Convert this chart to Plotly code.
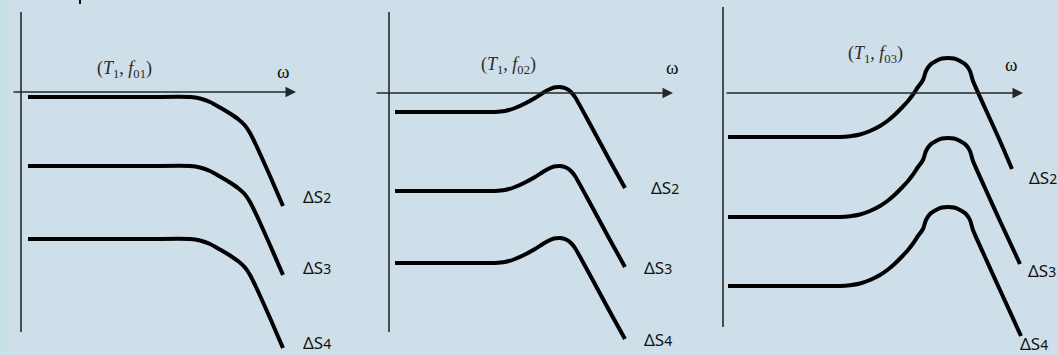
import plotly.graph_objects as go

# Frequency response sketches: three panels (T1, f01), (T1, f02), (T1, f03),
# each with three curves labelled ΔS2, ΔS3, ΔS4.
# Coordinates are relative to each panel's origin (ω axis crossing the level axis).

# Panel 1: pure roll-off
p1_omega = [7, 79, 129, 169, 179, 189, 199, 209, 217, 224, 229, 235, 249, 262]
p1_s2 = [-5, -5, -5, -5, -6.5, -10, -15.5, -21.5, -27, -33.5, -41, -53, -84, -114]
p1_s3 = [-74, -74, -74, -74, -75.5, -79, -84.5, -90.5, -96, -102.5, -110, -122, -153, -183]
p1_s4 = [-147, -147, -147, -147, -148.5, -152, -157.5, -163.5, -169, -175.5, -183, -195, -226, -256]

# Panel 2: small resonance bump before roll-off
p2_omega = [6, 71, 106, 116, 126, 136, 146, 153, 159, 165, 171, 177, 182, 186, 201, 221, 236]
p2_s2 = [-19, -19, -19, -18, -15, -10.5, -5, -0.5, 3, 5.5, 6, 4.5, 1, -4, -31, -68, -95]
p2_s3 = [-98, -98, -98, -97, -94, -89.5, -84, -79.5, -76, -73.5, -73, -74.5, -78, -83, -110, -147, -174]
p2_s4 = [-170, -170, -170, -169, -166, -161.5, -156, -151.5, -148, -145.5, -145, -146.5, -150, -155, -182, -219, -246]

# Panel 3: strong resonance peak before roll-off
p3_omega = [5, 67, 117, 127, 137, 147, 157, 165, 172, 179, 185, 190, 195, 200,
            203, 207, 213, 219, 225, 231, 237, 243, 247, 250, 262, 277]
p3_end_omega = [289, 297, 298]
p3_s2 = [-44, -44, -44, -43.2, -41.5, -38, -33, -27.5, -21.5, -14.5, -8, -1.5, 6, 13,
         22, 28, 32, 34.5, 35, 34.5, 32, 28, 22, 12, -15, -48, -76]
p3_s3 = [-124, -124, -124, -123.2, -121.5, -118, -113, -107.5, -101.5, -94.5, -88, -81.5, -74, -67,
         -58, -52, -48, -45.5, -45, -45.5, -48, -52, -58, -68, -95, -128, -171]
p3_s4 = [-193, -193, -193, -192.2, -190.5, -187, -182, -176.5, -170.5, -163.5, -157, -150.5, -143, -136,
         -127, -121, -117, -114.5, -114, -114.5, -117, -121, -127, -137, -164, -197, -243]

panel_titles = ["(<i>T</i><sub>1</sub>, <i>f</i><sub>01</sub>)",
                "(<i>T</i><sub>1</sub>, <i>f</i><sub>02</sub>)",
                "(<i>T</i><sub>1</sub>, <i>f</i><sub>03</sub>)"]
curve_labels = ["ΔS<span style='font-size:14px'>2</span>",
                "ΔS<span style='font-size:14px'>3</span>",
                "ΔS<span style='font-size:14px'>4</span>"]

W, H = 1058, 355
BG = "#cedfe9"
AXIS_COLOR = "#23282c"

fig = go.Figure()

panels = [
    dict(curves=[(p1_omega, p1_s2), (p1_omega, p1_s3), (p1_omega, p1_s4)],
         px=(0, 353), origin=(21, 92), vaxis=(80, -240), haxis=(-9, 275),
         title_pos=(103, 23), omega_pos=(262, 21),
         label_pos=[(296, -104), (296, -175), (296, -250)]),
    dict(curves=[(p2_omega, p2_s2), (p2_omega, p2_s3), (p2_omega, p2_s4)],
         px=(353, 700), origin=(389, 93), vaxis=(81, -239), haxis=(-14, 284),
         title_pos=(119, 28), omega_pos=(283, 26),
         label_pos=[(276, -94), (269, -174), (269, -246)]),
    dict(curves=[(p3_omega + [p3_end_omega[0]], p3_s2),
                 (p3_omega + [p3_end_omega[1]], p3_s3),
                 (p3_omega + [p3_end_omega[2]], p3_s4)],
         px=(700, 1058), origin=(723, 93), vaxis=(86, -234), haxis=(2, 300),
         title_pos=(152, 39), omega_pos=(288, 29),
         label_pos=[(320, -84), (319, -177), (311, -250)]),
]

layout_axes = {}
annotations = []
shapes = []

for i, p in enumerate(panels, start=1):
    xa = "x" if i == 1 else f"x{i}"
    ya = "y" if i == 1 else f"y{i}"
    x0px, x1px = p["px"]
    ox, oy = p["origin"]
    # one data unit per screen pixel, origin at the axis crossing
    layout_axes[f"xaxis{i}"] = dict(domain=[x0px / W, x1px / W],
                                    range=[x0px - ox, x1px - ox],
                                    visible=False, fixedrange=True, anchor=ya)
    layout_axes[f"yaxis{i}"] = dict(domain=[0, 1], range=[oy - H, oy],
                                    visible=False, fixedrange=True, anchor=xa)

    # level axis (vertical)
    fig.add_trace(go.Scatter(x=[0, 0], y=list(p["vaxis"]), mode="lines",
                             line=dict(color=AXIS_COLOR, width=1.6),
                             xaxis=xa, yaxis=ya, hoverinfo="skip",
                             showlegend=False))
    # ω axis with arrow
    annotations.append(dict(x=p["haxis"][1], y=0, ax=p["haxis"][0], ay=0,
                            xref=xa, yref=ya, axref=xa, ayref=ya,
                            showarrow=True, arrowhead=2, arrowsize=1.4,
                            arrowwidth=1.5, arrowcolor=AXIS_COLOR, text=""))

    for (om, s) in p["curves"]:
        fig.add_trace(go.Scatter(x=om, y=s, mode="lines",
                                 line=dict(color="#000000", width=4,
                                           shape="spline", smoothing=0.6),
                                 xaxis=xa, yaxis=ya, hoverinfo="skip",
                                 showlegend=False))

    annotations.append(dict(x=p["title_pos"][0], y=p["title_pos"][1],
                            xref=xa, yref=ya, showarrow=False,
                            text=panel_titles[i - 1],
                            font=dict(family="Liberation Serif", size=18,
                                      color="#2a2a2a")))
    annotations.append(dict(x=p["omega_pos"][0], y=p["omega_pos"][1],
                            xref=xa, yref=ya, showarrow=False, text="ω",
                            font=dict(family="Liberation Serif", size=19,
                                      color="#111111")))
    for (lx, ly), lab in zip(p["label_pos"], curve_labels):
        annotations.append(dict(x=lx, y=ly, xref=xa, yref=ya,
                                showarrow=False, text=lab,
                                font=dict(family="Noto Sans", size=17,
                                          color="#111111")))

# pale strip on the left edge
shapes.append(dict(type="rect", xref="paper", yref="paper",
                   x0=0, x1=8 / W, y0=0, y1=1, line=dict(width=0),
                   fillcolor="#c9e0e5", layer="below"))
# small stroke at the top edge
shapes.append(dict(type="line", xref="x", yref="y", x0=59, x1=59,
                   y0=92, y1=88, line=dict(color="#111111", width=2)))

fig.update_layout(width=W, height=H, autosize=False,
                  margin=dict(l=0, r=0, t=0, b=0, pad=0),
                  paper_bgcolor=BG, plot_bgcolor=BG,
                  annotations=annotations, shapes=shapes,
                  **layout_axes)

fig.write_html("out.html", config={"displayModeBar": False})
